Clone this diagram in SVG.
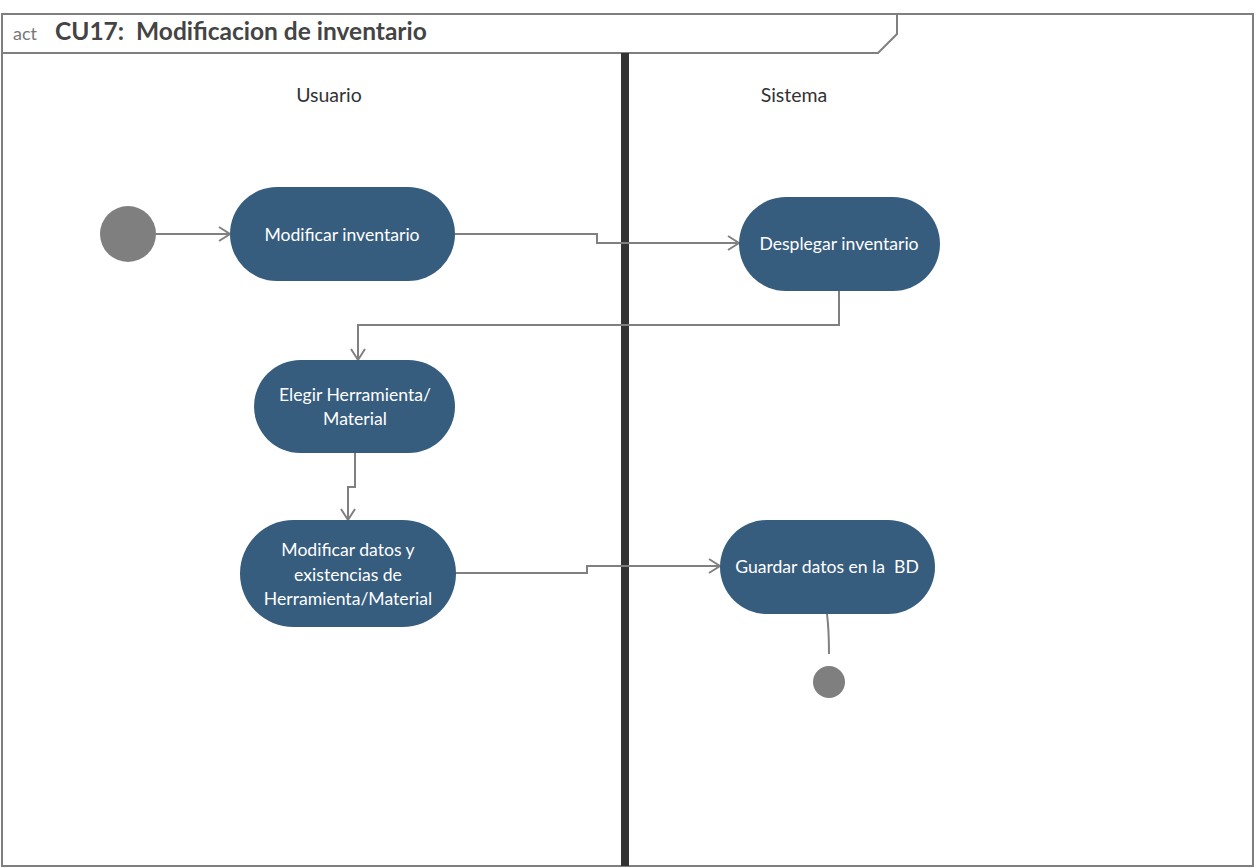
<svg xmlns="http://www.w3.org/2000/svg" width="1255" height="868" viewBox="0 0 1255 868">
<defs>
<style>
.frame{fill:none;stroke:#7f7f7f;stroke-width:2}
.act{fill:#365c7e}
.lbl{font-family:Lato,"Open Sans","Liberation Sans",sans-serif;font-size:17.6px;fill:#ffffff;text-anchor:middle}
.lane{font-family:Lato,"Open Sans","Liberation Sans",sans-serif;font-size:19.5px;fill:#333333;text-anchor:middle}
.conn{fill:none;stroke:#808080;stroke-width:2}
.dot{fill:#7f7f7f}
</style>
<marker id="arr" markerWidth="14" markerHeight="16" refX="12" refY="8" orient="auto" markerUnits="userSpaceOnUse">
<path d="M1,1 L12,8 L1,15" fill="none" stroke="#808080" stroke-width="2"/>
</marker>
</defs>
<rect x="0" y="0" width="1255" height="868" fill="#ffffff"/>
<g id="frame">
<rect class="frame" x="2" y="14" width="1251" height="852"/>
<path class="frame" d="M2,53 L878,53 L897,34 L897,14"/>
<text x="13" y="40" font-family="Lato,'Open Sans','Liberation Sans',sans-serif" font-size="18" fill="#777777">act</text>
<text x="55" y="40" font-family="Lato,'Open Sans','Liberation Sans',sans-serif" font-size="24.5" font-weight="bold" fill="#444444" xml:space="preserve">CU17:  Modificacion de inventario</text>
</g>
<g id="divider">
<rect x="621" y="53" width="8" height="813" fill="#333333"/>
</g>
<g id="lane-usuario"><text class="lane" x="329" y="102">Usuario</text></g>
<g id="lane-sistema"><text class="lane" x="794" y="102">Sistema</text></g>
<g id="connectors">
<path class="conn" d="M156,234 L230,234" marker-end="url(#arr)"/>
<path class="conn" d="M455,234 L597,234 L597,243 L739,243" marker-end="url(#arr)"/>
<path class="conn" d="M839,291 L839,325 L358,325 L358,360" marker-end="url(#arr)"/>
<path class="conn" d="M355,453 L355,487 L348,487 L348,520" marker-end="url(#arr)"/>
<path class="conn" d="M456,573 L587,573 L587,566 L720,566" marker-end="url(#arr)"/>
<path class="conn" d="M827,614 Q829,630 829,654"/>
</g>
<g id="start"><circle class="dot" cx="128" cy="234" r="28"/></g>
<g id="n1">
<rect class="act" x="230" y="187" width="225" height="94" rx="47"/>
<text class="lbl" x="342" y="241">Modificar inventario</text>
</g>
<g id="n2">
<rect class="act" x="739" y="197" width="201" height="94" rx="47"/>
<text class="lbl" x="839" y="250">Desplegar inventario</text>
</g>
<g id="n3">
<rect class="act" x="254" y="360" width="201" height="93" rx="46.5"/>
<text class="lbl" x="355" y="401">Elegir Herramienta/</text>
<text class="lbl" x="355" y="425">Material</text>
</g>
<g id="n4">
<rect class="act" x="240" y="520" width="216" height="107" rx="53.5"/>
<text class="lbl" x="348" y="556">Modificar datos y</text>
<text class="lbl" x="348" y="581">existencias de</text>
<text class="lbl" x="348" y="605">Herramienta/Material</text>
</g>
<g id="n5">
<rect class="act" x="720" y="520" width="215" height="94" rx="47"/>
<text class="lbl" x="827" y="573" xml:space="preserve">Guardar datos en la  BD</text>
</g>
<g id="end"><circle class="dot" cx="829" cy="682" r="16"/></g>
</svg>
